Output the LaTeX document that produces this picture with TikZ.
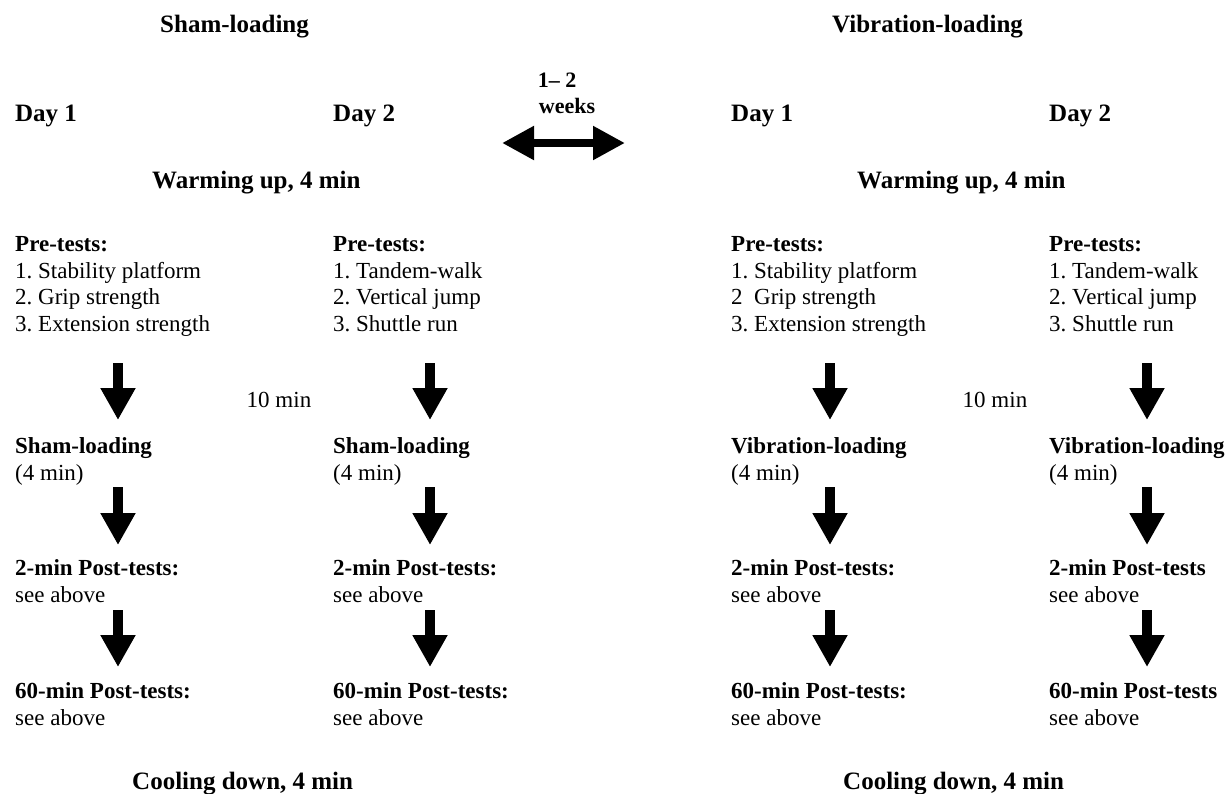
\documentclass[tikz,border=0pt]{standalone}
\usepackage{fontspec}
\setmainfont{Liberation Serif}
\usetikzlibrary{arrows.meta}
\newcommand{\bodyfont}{\fontsize{23}{27}\selectfont\frenchspacing}
\newcommand{\headfont}{\fontsize{25}{29}\selectfont\bfseries\frenchspacing}
\begin{document}
\begin{tikzpicture}[x=1pt,y=-1pt,
  tx/.style={anchor=base west, inner sep=0pt, font=\bodyfont},
  bx/.style={anchor=base west, inner sep=0pt, font=\bodyfont\bfseries},
  hd/.style={anchor=base, inner sep=0pt, font=\headfont},
  hdw/.style={anchor=base west, inner sep=0pt, font=\headfont},
  down/.style={line width=10pt, -{Triangle[width=33pt,length=32pt]}},
  both/.style={line width=8pt, {Triangle[width=32pt,length=32pt]}-{Triangle[width=32pt,length=32pt]}}]
\useasboundingbox (0,0) rectangle (1225,793);
% titles
\node[hdw] (tS) at (160,32) {Sham-loading};
\node[hdw] (tV) at (832,32) {Vibration-loading};
\node[anchor=base, inner sep=0pt, font=\fontsize{22}{26}\selectfont\bfseries] (w1) at (557,87) {1-- 2};
\node[anchor=base, inner sep=0pt, font=\fontsize{22}{26}\selectfont\bfseries] (w2) at (567,113) {weeks};
\coordinate (dl) at (502,143);
\coordinate (dr) at (625,143);
\draw[both] (dl) -- (dr);
% days
\node[hdw] (d1) at (15,121) {Day 1};
\node[hdw] (d2) at (333,121) {Day 2};
\node[hdw] (d3) at (731,121) {Day 1};
\node[hdw] (d4) at (1049,121) {Day 2};
\node[hdw] (wu1) at (152,188) {Warming up, 4 min};
\node[hdw] (wu2) at (857,188) {Warming up, 4 min};
% pre-tests
\node[bx] (a1) at (15,251) {Pre-tests:};
\node[tx] (a2) at (15,278) {1. Stability platform};
\node[tx] (a3) at (15,304) {2. Grip strength};
\node[tx] (a4) at (15,331) {3. Extension strength};
\node[bx] (b1) at (333,251) {Pre-tests:};
\node[tx] (b2) at (333,278) {1. Tandem-walk};
\node[tx] (b3) at (333,304) {2. Vertical jump};
\node[tx] (b4) at (333,331) {3. Shuttle run};
\node[bx] (c1) at (731,251) {Pre-tests:};
\node[tx] (c2) at (731,278) {1. Stability platform};
\node[tx] (c3) at (731,304) {2\ \ Grip strength};
\node[tx] (c4) at (731,331) {3. Extension strength};
\node[bx] (e1) at (1049,251) {Pre-tests:};
\node[tx] (e2) at (1049,278) {1. Tandem-walk};
\node[tx] (e3) at (1049,304) {2. Vertical jump};
\node[tx] (e4) at (1049,331) {3. Shuttle run};
\node[tx, anchor=base] (m1) at (279,407) {10 min};
\node[tx, anchor=base] (m2) at (995,407) {10 min};
% loading
\node[bx] (l1) at (15,453) {Sham-loading};
\node[tx] (l1b) at (15,480) {(4 min)};
\node[bx] (l2) at (333,453) {Sham-loading};
\node[tx] (l2b) at (333,480) {(4 min)};
\node[bx] (l3) at (731,453) {Vibration-loading};
\node[tx] (l3b) at (731,480) {(4 min)};
\node[bx] (l4) at (1049,453) {Vibration-loading};
\node[tx] (l4b) at (1049,480) {(4 min)};
% 2-min post
\node[bx] (p1) at (15,575) {2-min Post-tests:};
\node[tx] (p1b) at (15,602) {see above};
\node[bx] (p2) at (333,575) {2-min Post-tests:};
\node[tx] (p2b) at (333,602) {see above};
\node[bx] (p3) at (731,575) {2-min Post-tests:};
\node[tx] (p3b) at (731,602) {see above};
\node[bx] (p4) at (1049,575) {2-min Post-tests};
\node[tx] (p4b) at (1049,602) {see above};
% 60-min post
\node[bx] (q1) at (15,698) {60-min Post-tests:};
\node[tx] (q1b) at (15,725) {see above};
\node[bx] (q2) at (333,698) {60-min Post-tests:};
\node[tx] (q2b) at (333,725) {see above};
\node[bx] (q3) at (731,698) {60-min Post-tests:};
\node[tx] (q3b) at (731,725) {see above};
\node[bx] (q4) at (1049,698) {60-min Post-tests};
\node[tx] (q4b) at (1049,725) {see above};
\node[hdw] (cd1) at (132,789) {Cooling down, 4 min};
\node[hdw] (cd2) at (843,789) {Cooling down, 4 min};
% arrows
\foreach \n/\x in {1/118,2/430,3/830,4/1147}{
  \coordinate (r1s\n) at (\x,363); \coordinate (r1e\n) at (\x,420);
  \coordinate (r2s\n) at (\x,487); \coordinate (r2e\n) at (\x,545);
  \coordinate (r3s\n) at (\x,610); \coordinate (r3e\n) at (\x,667);
  \draw[down] (r1s\n) -- (r1e\n);
  \draw[down] (r2s\n) -- (r2e\n);
  \draw[down] (r3s\n) -- (r3e\n);
}
\end{tikzpicture}
\end{document}
